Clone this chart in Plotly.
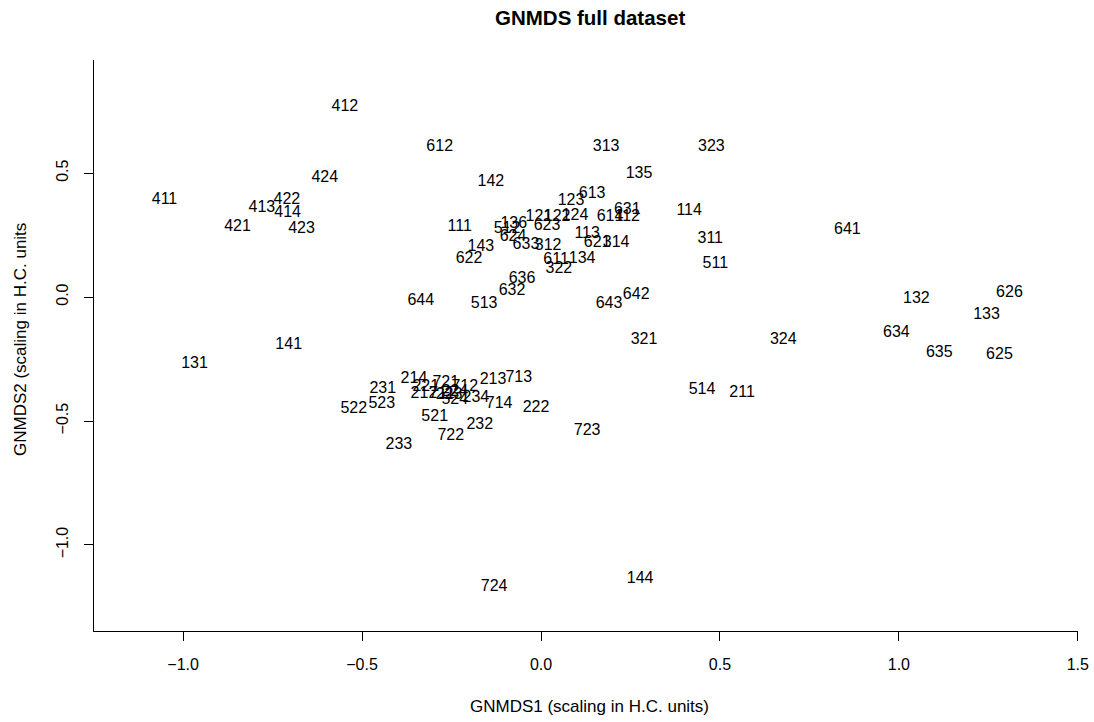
import plotly.graph_objects as go

labels = ["412","612","313","323","135","424","142","411","413","422","414","421","423",
          "613","123","121","122","124","614","112","631","114","136","623","512","624",
          "111","113","621","314","311","641","143","633","312","622","611","134","322",
          "511","636","632","513","644","643","642","132","626","133","634","635","625",
          "321","324","141","131","514","211","214","231","523","522","221","212","721",
          "711","223","224","712","524","234","213","713","714","222","521","232","722",
          "233","723","724","144"]
gnmds1 = [-0.548,-0.283,0.182,0.476,0.274,-0.604,-0.140,-1.052,-0.780,-0.710,-0.708,-0.848,-0.669,
          0.143,0.084,-0.006,0.045,0.095,0.193,0.241,0.241,0.414,-0.076,0.017,-0.095,-0.078,
          -0.227,0.129,0.157,0.210,0.473,0.856,-0.168,-0.042,0.020,-0.201,0.042,0.115,0.050,
          0.487,-0.053,-0.081,-0.159,-0.336,0.190,0.266,1.049,1.309,1.245,0.993,1.113,1.281,
          0.288,0.677,-0.705,-0.968,0.450,0.562,-0.355,-0.442,-0.445,-0.523,-0.322,-0.327,-0.266,
          -0.277,-0.257,-0.241,-0.213,-0.241,-0.182,-0.134,-0.062,-0.117,-0.014,-0.297,-0.171,-0.252,
          -0.397,0.129,-0.131,0.277]
gnmds2 = [0.766,0.605,0.605,0.605,0.496,0.480,0.464,0.391,0.359,0.391,0.339,0.282,0.274,
          0.415,0.387,0.323,0.323,0.327,0.323,0.323,0.351,0.347,0.294,0.286,0.274,0.242,
          0.282,0.254,0.218,0.218,0.234,0.270,0.202,0.210,0.206,0.153,0.149,0.153,0.113,
          0.133,0.073,0.024,-0.028,-0.016,-0.028,0.008,-0.008,0.016,-0.073,-0.145,-0.226,-0.234,
          -0.173,-0.173,-0.193,-0.270,-0.375,-0.387,-0.331,-0.371,-0.431,-0.452,-0.363,-0.391,-0.347,
          -0.391,-0.395,-0.383,-0.363,-0.415,-0.407,-0.335,-0.327,-0.431,-0.448,-0.484,-0.516,-0.560,
          -0.597,-0.540,-1.169,-1.137]

x_ticks = [-1.0, -0.5, 0.0, 0.5, 1.0, 1.5]
x_tick_text = ["\u22121.0", "\u22120.5", "0.0", "0.5", "1.0", "1.5"]
y_ticks = [-1.0, -0.5, 0.0, 0.5]
y_tick_text = ["\u22121.0", "\u22120.5", "0.0", "0.5"]

FONT = "Liberation Sans, Arial, Helvetica, sans-serif"

fig = go.Figure()
fig.add_trace(go.Scatter(
    x=gnmds1, y=gnmds2, mode="text", text=labels,
    textposition="middle center",
    textfont=dict(family=FONT, size=16, color="black"),
    hoverinfo="skip", showlegend=False))

L, R, T, B = 94, 16, 60, 91
W, H = 1094, 722
fig.update_layout(
    width=W, height=H,
    margin=dict(l=L, r=R, t=T, b=B),
    paper_bgcolor="white", plot_bgcolor="white",
    font=dict(family=FONT, size=16, color="black"),
    showlegend=False,
)
fig.update_xaxes(
    range=[-1.249, 1.5005], showgrid=False, zeroline=False, automargin=False,
    showline=True, linecolor="black", linewidth=1,
    ticks="outside", ticklen=9, tickcolor="black", tickwidth=1,
    tickvals=x_ticks, ticktext=x_tick_text,
    tickfont=dict(family=FONT, size=16, color="black"),
    ticklabelstandoff=10, ticklabeloverflow="allow",
)
fig.update_yaxes(
    range=[-1.347, 0.956], showgrid=False, zeroline=False, automargin=False,
    showline=True, linecolor="black", linewidth=1,
    ticks="outside", ticklen=9, tickcolor="black", tickwidth=1,
    tickvals=y_ticks, ticktext=y_tick_text,
    tickangle=-90,
    tickfont=dict(family=FONT, size=16, color="black"),
    ticklabelstandoff=10,
)

pw = W - L - R
ph = H - T - B
fig.add_annotation(text="<b>GNMDS full dataset</b>", xref="paper", yref="paper",
                   x=(590 - L) / pw, y=(H - B - 18) / ph,
                   showarrow=False, xanchor="center", yanchor="middle",
                   font=dict(family=FONT, size=20.5, color="black"))
fig.add_annotation(text="GNMDS1 (scaling in H.C. units)", xref="paper", yref="paper",
                   x=(589 - L) / pw, y=-(706 - 631) / ph,
                   showarrow=False, xanchor="center", yanchor="middle",
                   font=dict(family=FONT, size=17, color="black"))
fig.add_annotation(text="GNMDS2 (scaling in H.C. units", xref="paper", yref="paper",
                   x=(21 - L) / pw, y=(631 - 340) / ph, textangle=-90,
                   showarrow=False, xanchor="center", yanchor="middle",
                   font=dict(family=FONT, size=17, color="black"))

fig.write_html("out.html")
